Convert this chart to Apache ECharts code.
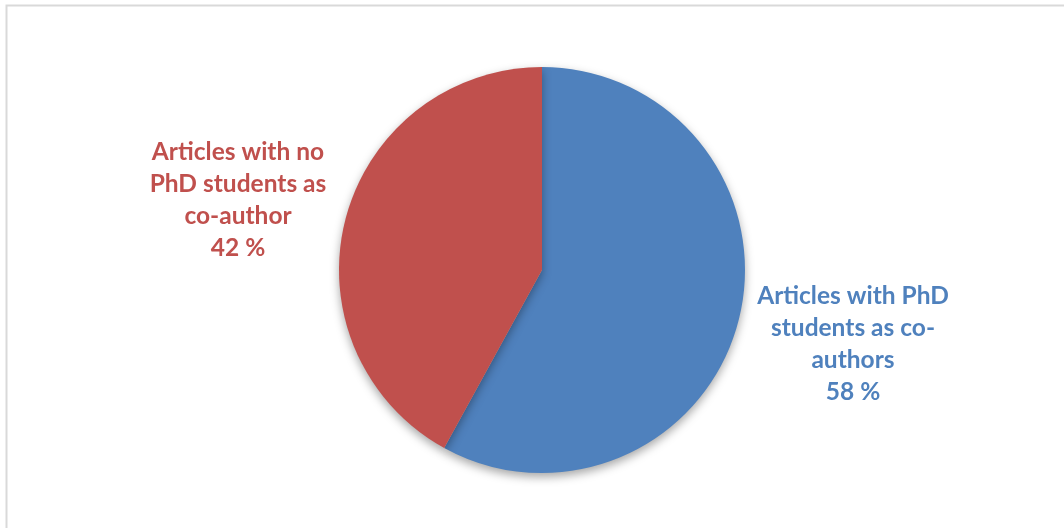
<!DOCTYPE html>
<html>
<head>
<meta charset="utf-8">
<script src="https://cdn.jsdelivr.net/npm/echarts@6/dist/echarts.min.js"></script>
<style>html,body{margin:0;padding:0;background:#fff}#c{width:1064px;height:528px}</style>
</head>
<body>
<div id="c"></div>
<script>
const categories = ["Articles with PhD\nstudents as co-\nauthors", "Articles with no\nPhD students as\nco-author"];
const values = [58, 42];
const colors = ["#4F81BD", "#C0504D"];

const chart = echarts.init(document.getElementById('c'), null, {renderer: 'canvas'});
const labelPos = [{x: 853, y: 344}, {x: 238, y: 200}];
chart.setOption({
  animation: false,
  backgroundColor: '#ffffff',
  graphic: [{
    type: 'rect', shape: {x: 6.5, y: 5.5, width: 1200, height: 700},
    style: {fill: 'none', stroke: '#d9d9d9', lineWidth: 2}, silent: true
  }],
  series: [{
    type: 'pie',
    center: [542, 270],
    radius: [0, 203],
    startAngle: 90,
    clockwise: true,
    data: categories.map((n, i) => ({name: n, value: values[i], itemStyle: {color: colors[i]}, label: {color: colors[i]}})),
    itemStyle: {shadowBlur: 10, shadowOffsetY: 4, shadowColor: 'rgba(0,0,0,0.35)'},
    label: {
      show: true, position: 'outside',
      formatter: '{b}\n{c} %',
      fontFamily: 'Lato', fontWeight: 'bold', fontSize: 24.5, lineHeight: 32, align: 'center'
    },
    labelLine: {show: false},
    labelLayout: function (p) {
      const q = labelPos[p.dataIndex];
      return {x: q.x, y: q.y, align: 'center', verticalAlign: 'middle'};
    },
    emphasis: {disabled: true}
  }]
});
</script>
</body>
</html>
